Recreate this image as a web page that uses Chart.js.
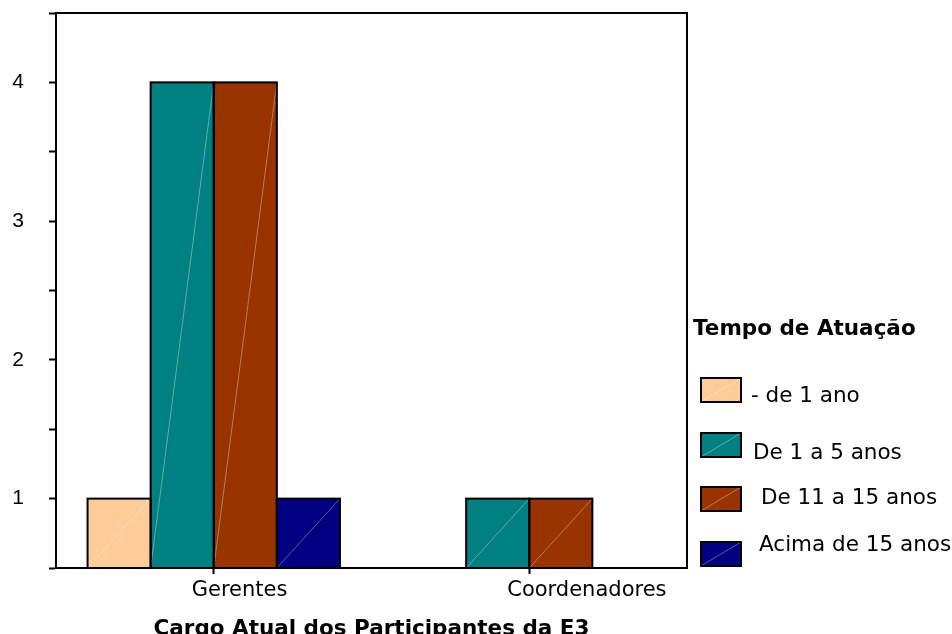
<!DOCTYPE html>
<html>
<head>
<meta charset="utf-8">
<script src="https://cdn.jsdelivr.net/npm/chart.js@4"></script>
<style>
  html, body { margin: 0; padding: 0; background: #ffffff; }
  canvas { display: block; }
</style>
</head>
<body>
<canvas id="chart" width="952" height="634"></canvas>
<script>
// Categories (x axis) and one array of counts per time bracket
const categories = ['Gerentes', 'Coordenadores'];
const seriesNames = ['- de 1 ano', 'De 1 a 5 anos', 'De 11 a 15 anos', 'Acima de 15 anos'];
const menosDe1Ano = [1, null];
const de1a5Anos = [4, 1];
const de11a15Anos = [4, 1];
const acimaDe15Anos = [1, null];
const seriesColors = ['#FFCC99', '#008080', '#993300', '#000080'];
const xAxisTitle = 'Cargo Atual dos Participantes da E3';
const legendTitle = 'Tempo de Atuação';

const seriesValues = [menosDe1Ano, de1a5Anos, de11a15Anos, acimaDe15Anos];

// Outline each bar with one shared 2px edge and a faint diagonal stroke
const barOutline = {
  id: 'barOutline',
  afterDatasetsDraw(chart) {
    const ctx = chart.ctx;
    const floor = chart.chartArea.bottom;
    ctx.save();
    chart.data.datasets.forEach((ds, di) => {
      const meta = chart.getDatasetMeta(di);
      meta.data.forEach((el, i) => {
        if (ds.data[i] === null || ds.data[i] === undefined) return;
        const p = el.getProps(['x', 'y', 'base', 'width'], true);
        const base = Math.min(p.base, floor);
        const left = p.x - p.width / 2;
        const right = p.x + p.width / 2;
        ctx.beginPath();
        ctx.moveTo(left, base);
        ctx.lineTo(right, p.y);
        ctx.strokeStyle = 'rgba(255,255,255,0.35)';
        ctx.lineWidth = 1;
        ctx.stroke();
        ctx.strokeStyle = '#000000';
        ctx.lineWidth = 2;
        ctx.strokeRect(left, p.y, p.width, base - p.y);
      });
    });
    ctx.restore();
  }
};

// Top and right edges of the plot frame
const plotFrame = {
  id: 'plotFrame',
  afterDraw(chart) {
    const { left, top, right, bottom } = chart.chartArea;
    const ctx = chart.ctx;
    ctx.save();
    ctx.strokeStyle = '#000000';
    ctx.lineWidth = 2;
    ctx.beginPath();
    ctx.moveTo(left, top);
    ctx.lineTo(right, top);
    ctx.lineTo(right, bottom);
    ctx.stroke();
    ctx.restore();
  }
};

// Legend block to the right of the plot
const sideLegend = {
  id: 'sideLegend',
  afterDraw(chart, args, opts) {
    const ctx = chart.ctx;
    ctx.save();
    ctx.fillStyle = '#000000';
    ctx.textBaseline = 'alphabetic';
    ctx.textAlign = 'left';
    ctx.font = 'bold 21.5px "DejaVu Sans"';
    ctx.fillText(opts.title, opts.titleX, opts.titleY);
    ctx.font = '21.5px "DejaVu Sans"';
    chart.data.datasets.forEach((ds, i) => {
      const bx = opts.boxX, by = opts.boxTops[i];
      const w = opts.boxW, h = opts.boxH;
      ctx.fillStyle = ds.backgroundColor;
      ctx.fillRect(bx, by, w, h);
      ctx.beginPath();
      ctx.moveTo(bx, by + h);
      ctx.lineTo(bx + w, by);
      ctx.strokeStyle = 'rgba(255,255,255,0.35)';
      ctx.lineWidth = 1;
      ctx.stroke();
      ctx.strokeStyle = '#000000';
      ctx.lineWidth = 2;
      ctx.strokeRect(bx, by, w, h);
      ctx.fillStyle = '#000000';
      ctx.fillText(ds.label, opts.textX[i], opts.textY[i]);
    });
    ctx.restore();
  }
};

new Chart(document.getElementById('chart'), {
  type: 'bar',
  data: {
    labels: categories,
    datasets: seriesNames.map((name, i) => ({
      label: name,
      data: seriesValues[i],
      backgroundColor: seriesColors[i],
      borderWidth: 0,
      categoryPercentage: 0.8,
      barPercentage: 1.0
    }))
  },
  options: {
    responsive: false,
    animation: false,
    devicePixelRatio: 1,
    layout: { padding: { top: 13, right: 265, left: 0, bottom: 0 } },
    plugins: {
      legend: { display: false },
      tooltip: { enabled: false },
      sideLegend: {
        title: legendTitle,
        titleX: 693, titleY: 335,
        boxX: 701, boxW: 40, boxH: 24,
        boxTops: [378, 433, 487, 542],
        textX: [751, 753, 761, 759],
        textY: [402, 459, 504, 551]
      }
    },
    scales: {
      x: {
        type: 'category',
        offset: true,
        grid: { offset: false, drawOnChartArea: false, drawTicks: true, tickLength: 6, tickWidth: 2, color: '#000000' },
        border: { display: true, color: '#000000', width: 2 },
        ticks: {
          color: '#000000',
          font: { family: '"DejaVu Sans"', size: 21 },
          align: 'start',
          labelOffset: -22,
          padding: 4,
          maxRotation: 0
        },
        title: {
          display: true,
          text: xAxisTitle,
          color: '#000000',
          font: { family: '"DejaVu Sans"', size: 21.5, weight: 'bold', lineHeight: 1 },
          padding: { top: 0, bottom: -6 }
        },
        afterFit(scale) {
          scale.height = 66;
          scale.paddingLeft = 0;
          scale.paddingRight = 0;
        }
      },
      y: {
        min: 0.5,
        max: 4.5,
        grid: { drawOnChartArea: false, drawTicks: true, tickLength: 7, tickWidth: 2, color: '#000000' },
        border: { display: true, color: '#000000', width: 2 },
        ticks: {
          stepSize: 0.5,
          color: '#000000',
          font: { family: '"Liberation Sans"', size: 21 },
          padding: 25,
          callback: (v) => Number.isInteger(v) ? String(v) : ''
        },
        afterFit(scale) {
          scale.width = 56;
          scale.paddingTop = 0;
          scale.paddingBottom = 0;
        }
      }
    }
  },
  plugins: [barOutline, plotFrame, sideLegend]
});
</script>
</body>
</html>
